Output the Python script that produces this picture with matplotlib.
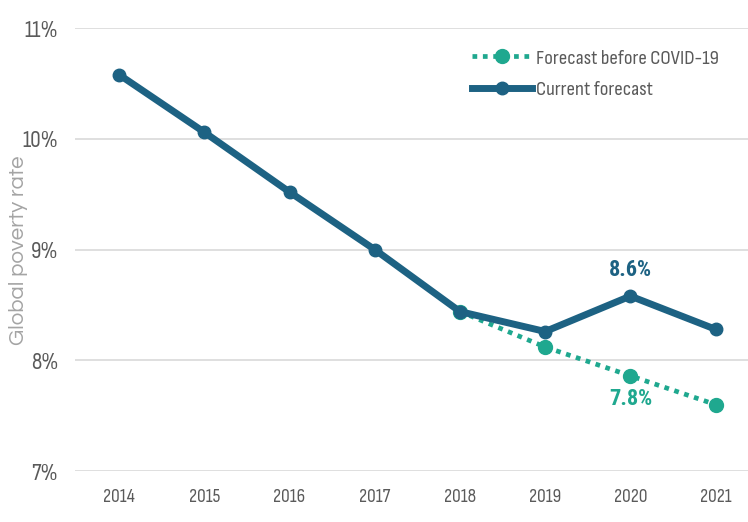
import matplotlib.pyplot as plt

# data
years          = [2014, 2015, 2016, 2017, 2018, 2019, 2020, 2021]
currentRate    = [10.58, 10.06, 9.52, 9.00, 8.44, 8.26, 8.58, 8.28]
forecastYears  = [2018, 2019, 2020, 2021]
forecastRate   = [8.44, 8.12, 7.86, 7.60]
yTicks         = [7, 8, 9, 10, 11]

# colours
darkBlue = '#1d6283'
teal     = '#1fa88f'
narrow   = ['Sofia Sans Condensed', 'DejaVu Sans']
boldFont = ['Roboto Condensed', 'DejaVu Sans']

fig = plt.figure(figsize=(7.48, 5.22), dpi=100)
ax = fig.add_axes([0.1, 0.0977, 0.9, 0.8483])

ax.plot(forecastYears, forecastRate, color=teal, linestyle=(0, (1, 1.2)), linewidth=3.4,
        marker='o', markersize=10, label='Forecast before COVID-19', zorder=2)
ax.plot(years, currentRate, color=darkBlue, linewidth=5,
        marker='o', markersize=9, label='Current forecast', zorder=3)

ax.set_xlim(2013.48, 2021.38)
ax.set_ylim(7, 11)
ax.set_xticks(years)
ax.set_xticklabels([str(y) for y in years], fontfamily=narrow,
                   fontsize=14, color='#5a5a5a')
ax.set_yticks(yTicks)
ax.set_yticklabels(['%d%%' % t for t in yTicks], fontfamily=narrow,
                   fontsize=17, color='#5a5a5a')
ax.tick_params(length=0, pad=12)
ax.tick_params(axis='y', pad=12)
ax.grid(axis='y', color='#d9d9d9', linewidth=1.2)
ax.set_axisbelow(True)
for s in ax.spines.values():
    s.set_visible(False)

fig.text(0.025, 0.521, 'Global poverty rate', rotation=90, ha='center', va='center',
         fontsize=16, color='#a4a4a4', fontfamily=['Questrial', 'DejaVu Sans'])

# value labels
ax.annotate('%.1f%%' % 8.6, (2020, currentRate[6]), xytext=(0, 11), textcoords='offset points',
            ha='center', va='bottom', fontfamily=boldFont, fontsize=16, fontweight='bold', color=darkBlue)
ax.annotate('%.1f%%' % 7.8, (2020, forecastRate[2]), xytext=(0, -9), textcoords='offset points',
            ha='center', va='top', fontfamily=boldFont, fontsize=16, fontweight='bold', color=teal)

leg = ax.legend(loc='upper right', bbox_to_anchor=(0.985, 0.995), frameon=False,
                prop={'family': narrow, 'size': 15}, handlelength=2.9,
                handletextpad=0.2, labelspacing=0.6)
for t in leg.get_texts():
    t.set_color('#5a5a5a')

fig.savefig('out.png', dpi=100)
